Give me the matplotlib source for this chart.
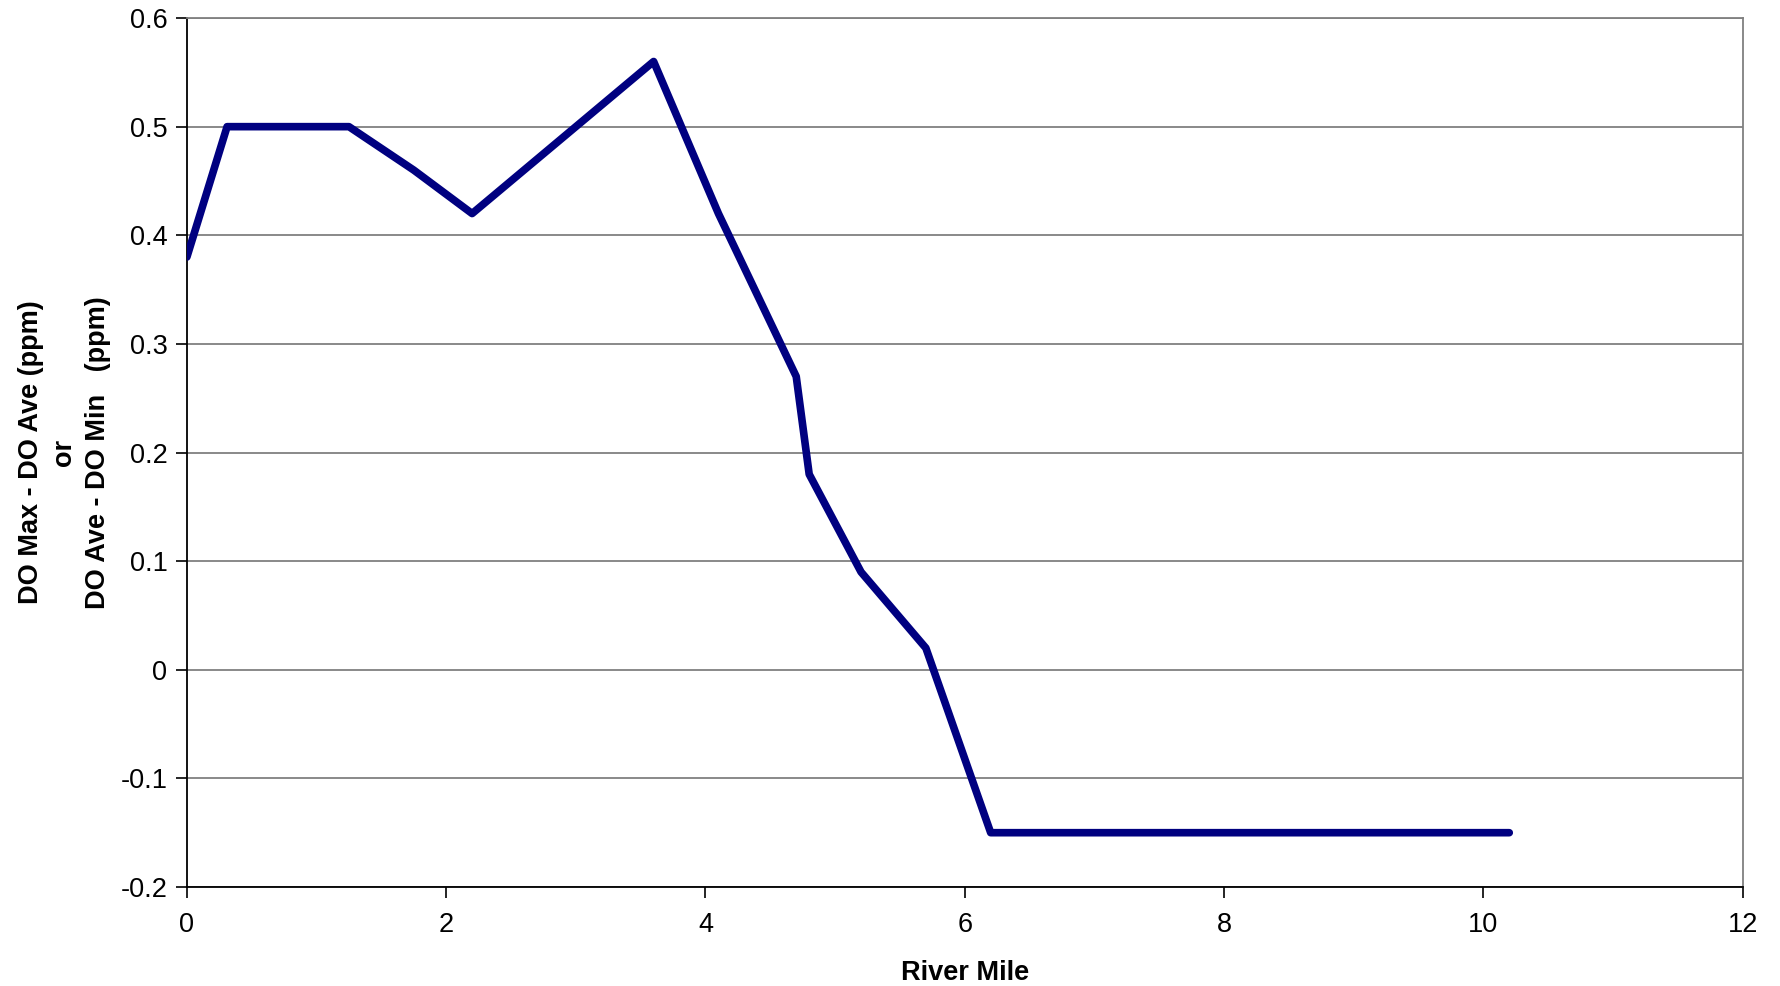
import matplotlib
matplotlib.use("Agg")
import matplotlib.pyplot as plt

plt.rcParams['font.family'] = ['Liberation Sans', 'DejaVu Sans']

river_mile = [0.0, 0.31, 1.25, 1.75, 2.2, 3.6, 4.1, 4.7, 4.8, 5.2, 5.7, 6.2, 10.2]
do_diff = [0.38, 0.50, 0.50, 0.46, 0.42, 0.56, 0.42, 0.27, 0.18, 0.09, 0.02, -0.15, -0.15]

x_ticks = [0, 2, 4, 6, 8, 10, 12]
y_ticks = [-0.2, -0.1, 0, 0.1, 0.2, 0.3, 0.4, 0.5, 0.6]
y_tick_labels = ["-0.2", "-0.1", "0", "0.1", "0.2", "0.3", "0.4", "0.5", "0.6"]

fig = plt.figure(figsize=(17.8, 9.86), dpi=100)
ax = fig.add_axes([0.105, 0.1004, 0.874, 0.8813])

ax.plot(river_mile, do_diff, color='#000080', linewidth=5.5, solid_joinstyle='round', solid_capstyle='round', zorder=3)

ax.set_xlim(0, 12)
ax.set_ylim(-0.2, 0.6)
ax.set_xticks(x_ticks)
ax.set_xticklabels([str(t) for t in x_ticks])
ax.set_yticks(y_ticks)
ax.set_yticklabels(y_tick_labels)

ax.yaxis.grid(True, color='#808080', linewidth=1.3, zorder=1)
ax.set_axisbelow(True)

for s in ['left', 'bottom']:
    ax.spines[s].set_color('black')
    ax.spines[s].set_linewidth(1.3)
for s in ['top', 'right']:
    ax.spines[s].set_color('#808080')
    ax.spines[s].set_linewidth(1.3)

ax.tick_params(axis='both', direction='out', length=8, width=1.2, labelsize=19.5, colors='black', pad=6)
ax.tick_params(axis='x', pad=10)

ax.set_xlabel("River Mile", fontsize=19.5, fontweight='bold', labelpad=16)
ax.set_ylabel("DO Max - DO Ave (ppm)\nor\nDO Ave - DO Min   (ppm)", fontsize=19.5,
              fontweight='bold', linespacing=1.38, labelpad=7)

fig.savefig("out.png", dpi=100, facecolor='white')
